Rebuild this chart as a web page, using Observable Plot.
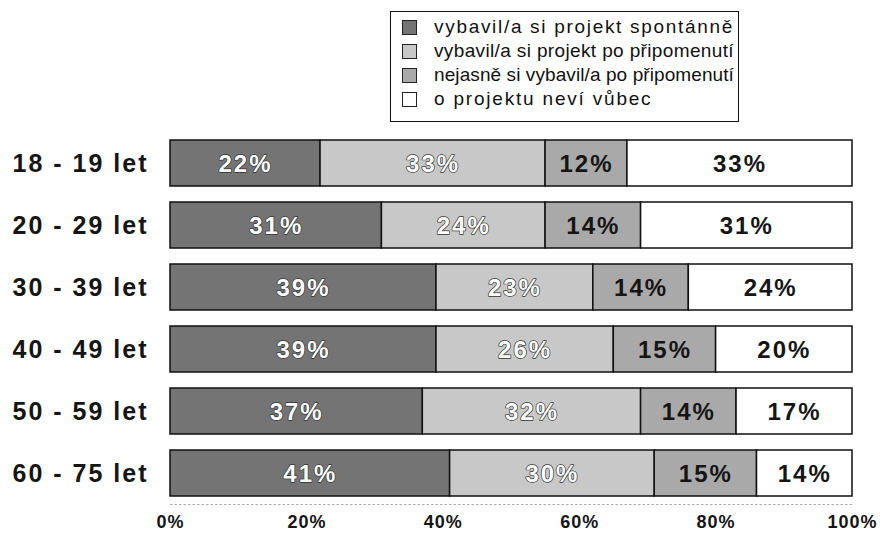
<!DOCTYPE html>
<html>
<head>
<meta charset="utf-8">
<script src="https://cdn.jsdelivr.net/npm/d3@7"></script>
<script src="https://cdn.jsdelivr.net/npm/@observablehq/plot@0.6"></script>
<style>
  html, body { margin: 0; padding: 0; background: #fff; }
  #wrap { position: relative; width: 880px; height: 533px; font-family: "Liberation Sans", Arial, sans-serif; }
  #legend { position: absolute; left: 390px; top: 11px; width: 349px; height: 111px;
    border: 1.5px solid #111; box-sizing: border-box; background: #fff; padding-top: 3px; }
  .li { display: flex; align-items: center; height: 24px; font-size: 19px; color: #111; white-space: nowrap; }
  .li span { letter-spacing: 0px; }
  .sw { width: 13px; height: 13px; border: 1px solid #222; margin-left: 11px; margin-right: 17px; flex: none; }
  svg g[aria-label="y-axis tick label"] text { letter-spacing: 2px; }
  svg g[aria-label="x-axis tick label"] text { letter-spacing: 1px; }
  svg g[aria-label="text"] text { letter-spacing: 2px; }
</style>
</head>
<body>
<div id="wrap"><div id="chart"></div><div id="legend"></div></div>
<script>
const ages = ["18 - 19 let", "20 - 29 let", "30 - 39 let", "40 - 49 let", "50 - 59 let", "60 - 75 let"];
const categories = ["vybavil/a si projekt spontánně", "vybavil/a si projekt po připomenutí", "nejasně si vybavil/a po připomenutí", "o projektu neví vůbec"];
const spontanne = [22, 31, 39, 39, 37, 41];
const poPripomenuti = [33, 24, 23, 26, 32, 30];
const nejasne = [12, 14, 14, 15, 14, 15];
const nevi = [33, 31, 24, 20, 17, 14];
const colors = ["#747474", "#c8c8c8", "#a9a9a9", "#ffffff"];
const xTicks = [0, 20, 40, 60, 80, 100];

const series = [spontanne, poPripomenuti, nejasne, nevi];
const data = [];
ages.forEach((age, i) => series.forEach((s, k) => data.push({age, cat: categories[k], k, value: s[i]})));

const chart = Plot.plot({
  width: 880, height: 533,
  marginLeft: 170, marginRight: 28, marginTop: 138, marginBottom: 36,
  style: {fontFamily: "'Liberation Sans', Arial, sans-serif", background: "#fff"},
  x: {domain: [0, 100]},
  y: {domain: ages, paddingInner: 0.26, paddingOuter: 0},
  color: {domain: categories, range: colors},
  marks: [
    Plot.frame({anchor: "bottom", dy: 7, stroke: "#aaa", strokeDasharray: "1.5,3"}),
    Plot.barX(data, Plot.stackX({x: "value", y: "age", fill: "cat", order: categories, stroke: "#111", strokeWidth: 1.5})),
    Plot.text(data, Plot.stackX({x: "value", y: "age", z: "cat", order: categories, text: d => d.value + "%",
      fill: d => d.k < 2 ? "#fff" : "#151515", stroke: d => d.k < 2 ? "#333" : "none", strokeWidth: 1.4,
      fontSize: 24, fontWeight: "bold", dy: 1})),
    Plot.axisY({tickSize: 0, tickPadding: 22, fontSize: 25, fontWeight: "bold", fill: "#151515", label: null}),
    Plot.axisX({ticks: xTicks, tickSize: 0, tickPadding: 18, fontSize: 18, fontWeight: "bold", fill: "#151515", tickFormat: d => d + "%", label: null})
  ]
});
document.getElementById("chart").appendChild(chart);

const legend = document.getElementById("legend");
categories.forEach((c, k) => {
  const row = document.createElement("div");
  row.className = "li";
  const sw = document.createElement("div");
  sw.className = "sw";
  sw.style.background = colors[k];
  row.appendChild(sw);
  const t = document.createElement("span");
  t.textContent = c;
  row.appendChild(t);
  legend.appendChild(row);
  // widen tracking like the scanned original, but keep the text inside the box
  const w0 = t.getBoundingClientRect().width;
  const n = c.length;
  const target = Math.min(w0 + 1.8 * n, 300);
  t.style.letterSpacing = Math.max(0, (target - w0) / n) + "px";
});
</script>
</body>
</html>
